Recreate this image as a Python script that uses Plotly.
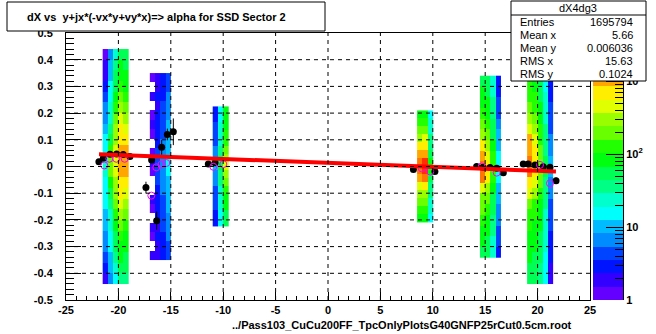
import colorsys
import numpy as np
import plotly.graph_objects as go

W, H = 656, 334

# ---- populated columns of the dX vs alpha-term histogram ----
# x bin edges of each column, the y span it covers, and the entries per x strip
# (each strip listed from the lowest y bin upwards; 0 = empty cell)
col1_xedges = [-21.5, -21.0, -20.5, -20.0, -19.5, -19.0]
col1_yspan = [-0.44, 0.44]
col1_counts = [
    [2, 3, 4, 7, 7, 10, 10, 15, 15, 15, 24, 24, 15, 15, 10, 7, 7, 4, 3, 2, 2, 1],
    [7, 10, 10, 15, 15, 24, 24, 36, 55, 85, 195, 195, 130, 55, 36, 24, 24, 15, 15, 10, 10, 7],
    [15, 24, 36, 55, 55, 85, 130, 195, 300, 300, 450, 450, 450, 300, 300, 195, 130, 85, 55, 55, 36, 24],
    [36, 55, 85, 85, 130, 195, 300, 450, 690, 690, 1050, 1050, 1050, 690, 690, 450, 300, 195, 130, 85, 85, 55],
    [36, 55, 55, 85, 85, 130, 195, 300, 450, 690, 1050, 1050, 1050, 690, 450, 300, 195, 130, 85, 85, 55, 55],
]

col2_xedges = [-17.0, -16.5, -16.0, -15.5, -15.0]
col2_yspan = [-0.35, 0.35]
col2_counts = [
    [2, 0, 1, 2, 0, 1, 2, 0, 0, 1, 2, 1, 0, 1, 2, 1, 0, 2, 0, 1],
    [2, 2, 3, 2, 3, 3, 3, 3, 4, 4, 4, 4, 3, 3, 3, 3, 2, 3, 2, 2],
    [3, 3, 3, 4, 4, 4, 4, 7, 7, 7, 7, 7, 7, 4, 4, 4, 4, 3, 3, 3],
    [4, 4, 7, 7, 7, 10, 10, 10, 10, 15, 15, 10, 10, 10, 10, 7, 7, 7, 4, 4],
]

col3_xedges = [-11.0, -10.5, -10.0, -9.5]
col3_yspan = [-0.225, 0.225]
col3_counts = [
    [3, 3, 4, 4, 4, 7, 7, 10, 7, 7, 4, 4, 4, 3, 3],
    [15, 15, 24, 24, 24, 36, 36, 55, 36, 36, 24, 24, 24, 15, 15],
    [55, 55, 85, 85, 130, 195, 300, 450, 300, 195, 130, 130, 85, 85, 85],
]

col4_xedges = [8.5, 9.0, 9.5, 10.0]
col4_yspan = [-0.21, 0.21]
col4_counts = [
    [85, 130, 195, 300, 450, 1050, 1600, 1600, 1050, 690, 300, 195, 130, 85],
    [85, 130, 195, 300, 690, 1600, 2450, 2450, 1050, 690, 450, 195, 130, 85],
    [15, 24, 24, 36, 36, 55, 85, 85, 55, 36, 36, 24, 24, 15],
]

col5_xedges = [14.5, 15.0, 15.5, 16.0, 16.5]
col5_yspan = [-0.34, 0.34]
col5_counts = [
    [55, 85, 85, 130, 195, 195, 450, 1600, 1600, 1050, 690, 300, 195, 130, 85, 85, 55],
    [55, 55, 85, 85, 130, 195, 300, 690, 690, 450, 300, 195, 130, 85, 85, 55, 55],
    [24, 24, 36, 36, 55, 55, 85, 130, 130, 130, 85, 55, 55, 36, 36, 24, 24],
    [3, 4, 4, 7, 7, 10, 10, 15, 15, 15, 10, 10, 7, 4, 4, 3, 3],
]

col6_xedges = [19.0, 19.5, 20.0, 20.5, 21.0, 21.5]
col6_yspan = [-0.44, 0.44]
col6_counts = [
    [55, 55, 85, 85, 85, 130, 130, 195, 450, 690, 1600, 1600, 1050, 1050, 450, 300, 195, 130, 130, 85, 85, 85],
    [55, 55, 55, 85, 85, 85, 130, 130, 300, 450, 690, 690, 690, 450, 300, 195, 130, 130, 85, 85, 85, 55],
    [36, 36, 55, 55, 55, 85, 85, 85, 130, 195, 195, 195, 195, 130, 130, 85, 85, 55, 55, 55, 36, 36],
    [15, 15, 15, 24, 24, 24, 24, 36, 36, 36, 55, 55, 36, 36, 36, 24, 24, 24, 15, 15, 15, 15],
    [2, 2, 3, 3, 3, 4, 4, 4, 7, 7, 10, 10, 7, 7, 4, 4, 4, 3, 3, 3, 2, 2],
]

# ---- profile of dX (black) and second profile (magenta) ----
prof_x = [-21.86, -21.44, -20.8, -20.17, -19.54, -18.9,
          -17.37, -16.83, -16.35, -15.87, -15.33, -14.76,
          -11.42, -10.78, 8.15, 10.2,
          14.18, 14.8, 15.46, 16.1, 16.73,
          18.63, 19.1, 19.75, 20.54, 21.18, 21.76]
prof_y = [0.018, 0.031, 0.046, 0.047, 0.045, 0.037,
          -0.079, 0.024, -0.203, 0.072, 0.12, 0.13,
          0.009, 0.014, -0.011, -0.019,
          0.0, -0.003, -0.004, -0.007, -0.023,
          0.009, 0.009, 0.006, -0.001, -0.003, -0.053]
prof_err = [0.004, 0.003, 0.002, 0.002, 0.002, 0.003,
            0.022, 0.01, 0.034, 0.028, 0.022, 0.05,
            0.006, 0.005, 0.003, 0.004,
            0.003, 0.002, 0.002, 0.003, 0.006,
            0.003, 0.002, 0.002, 0.003, 0.004, 0.012]

prof2_x = [-21.35, -20.87, -20.2, -19.4, -16.86, -16.38, -15.9, -15.43,
           -10.94, -9.99, 8.95, 9.75, 14.66, 16.1, 20.23, 21.18]
prof2_y = [0.004, 0.029, 0.029, 0.029, -0.109, -0.003, 0.007, 0.013,
           -0.001, 0.009, -0.007, -0.019, 0.0, -0.023, 0.006, -0.063]

# ---- straight-line fit ----
fit_x = [-21.85, 21.75]
fit_y = [0.046, -0.019]

# ---- statistics panel ----
hist_name = "dX4dg3"
stat_labels = ["Entries", "Mean x", "Mean y", "RMS x", "RMS y"]
stat_values = ["1695794", "5.66", "0.006036", "15.63", "0.1024"]

# ---- axes / palette ----
x_ticks = [-25, -20, -15, -10, -5, 0, 5, 10, 15, 20, 25]
y_ticks = [-0.5, -0.4, -0.3, -0.2, -0.1, 0.0, 0.1, 0.2, 0.3, 0.4, 0.5]
z_max = 4570
z_decades = [1, 10, 100, 1000]
z_decade_text = ["1", "10", "10<sup>2</sup>", "10<sup>3</sup>"]

title_text = "dX vs  y+jx*(-vx*y+vy*x)=> alpha for SSD Sector 2"
xtitle_text = "../Pass103_CuCu200FF_TpcOnlyPlotsG40GNFP25rCut0.5cm.root"

FONT = "Liberation Sans"


def fx(p):
    return p / W


def fy(p):
    return (H - p) / H


# frame of the main pad (pixels)
FL, FR, FT, FB = 66, 590, 33, 300
# palette bar
PL, PR = 593, 623

# 20-level "pretty" palette (hue 280 -> 0, full saturation)
n_lev = 20
zlog_max = np.log10(z_max)
colors = []
for k in range(n_lev):
    ci = int((k + 0.99) * 50 / n_lev)
    hue = 280 - (ci + 1) * 280 / 50
    r, g, b = colorsys.hls_to_rgb(hue / 360.0, 0.5, 1.0)
    colors.append("rgb(%d,%d,%d)" % (round(r * 255), round(g * 255), round(b * 255)))
cscale = []
for k, c in enumerate(colors):
    cscale.append([k / n_lev, c])
    cscale.append([(k + 1) / n_lev, c])

fig = go.Figure()

columns = [
    (col1_xedges, col1_yspan, col1_counts),
    (col2_xedges, col2_yspan, col2_counts),
    (col3_xedges, col3_yspan, col3_counts),
    (col4_xedges, col4_yspan, col4_counts),
    (col5_xedges, col5_yspan, col5_counts),
    (col6_xedges, col6_yspan, col6_counts),
]
for xe, ys, counts in columns:
    c = np.array(counts, dtype=float).T  # rows = y bins
    ye = np.linspace(ys[0], ys[1], c.shape[0] + 1)
    zl = np.where(c > 0, np.log10(np.maximum(c, 1.0)), np.nan)
    fig.add_trace(go.Heatmap(x=xe, y=ye, z=zl, coloraxis="coloraxis",
                             hoverinfo="skip", xaxis="x", yaxis="y"))

fig.add_trace(go.Scatter(
    x=prof_x, y=prof_y, mode="markers",
    marker=dict(symbol="circle", size=7, color="black"),
    error_y=dict(type="data", array=prof_err, color="black", thickness=1, width=0),
    xaxis="x", yaxis="y"))
fig.add_trace(go.Scatter(
    x=prof2_x, y=prof2_y, mode="markers",
    marker=dict(symbol="circle-open", size=7, color="#ff00ff", line=dict(width=1, color="#ff00ff")),
    xaxis="x", yaxis="y"))
fig.add_trace(go.Scatter(
    x=fit_x, y=fit_y, mode="lines", line=dict(color="#ff0000", width=4),
    xaxis="x", yaxis="y"))

# palette bar drawn as its own one-column heatmap
pal_edges = np.linspace(0, zlog_max, n_lev + 1)
pal_z = [[(pal_edges[k] + pal_edges[k + 1]) / 2] for k in range(n_lev)]
fig.add_trace(go.Heatmap(x=[0, 1], y=pal_edges, z=pal_z, coloraxis="coloraxis",
                         hoverinfo="skip", xaxis="x2", yaxis="y2"))

tickfont = dict(family=FONT, size=11, color="black", weight="bold")

x_minor = [v for v in range(-25, 26) if v % 5 != 0]
y_minor = [round(v, 2) for v in np.arange(-0.5, 0.5001, 0.02) if abs(round(v * 10) - v * 10) > 1e-6]

pal_minor = []
for d in [1, 10, 100, 1000]:
    for m in range(2, 10):
        if d * m < z_max:
            pal_minor.append(np.log10(d * m))

shapes = []
# dashed grid at major ticks
for v in x_ticks[1:-1]:
    shapes.append(dict(type="line", xref="x", yref="y", x0=v, x1=v, y0=-0.5, y1=0.5,
                       line=dict(color="black", width=1, dash="4px,4px"), layer="above"))
for v in y_ticks[1:-1]:
    shapes.append(dict(type="line", xref="x", yref="y", x0=-25, x1=25, y0=v, y1=v,
                       line=dict(color="black", width=1, dash="4px,4px"), layer="above"))
# title box
shapes.append(dict(type="rect", xref="paper", yref="paper", x0=fx(7), x1=fx(325), y0=fy(31), y1=fy(2),
                   line=dict(color="black", width=1), fillcolor="white", layer="above"))
# statistics box with header separator
shapes.append(dict(type="rect", xref="paper", yref="paper", x0=fx(511), x1=fx(646), y0=fy(81), y1=fy(1),
                   line=dict(color="black", width=1), fillcolor="white", layer="above"))
shapes.append(dict(type="line", xref="paper", yref="paper", x0=fx(511), x1=fx(646), y0=fy(15), y1=fy(15),
                   line=dict(color="black", width=1), layer="above"))

annotations = [
    dict(text=title_text, x=fx(25), y=fy(17), xref="paper", yref="paper", xanchor="left",
         yanchor="middle", showarrow=False, font=dict(family=FONT, size=11, color="black", weight="bold")),
    dict(text=xtitle_text, x=fx(574), y=fy(325), xref="paper", yref="paper", xanchor="right",
         yanchor="middle", showarrow=False, font=dict(family=FONT, size=11, color="black", weight="bold")),
    dict(text=hist_name, x=fx(578), y=fy(8), xref="paper", yref="paper", xanchor="center",
         yanchor="middle", showarrow=False, font=dict(family=FONT, size=11, color="black")),
]
row_y = [22, 35, 48, 61, 74]
for lab, val, ry in zip(stat_labels, stat_values, row_y):
    annotations.append(dict(text=lab, x=fx(518), y=fy(ry), xref="paper", yref="paper", xanchor="left",
                            yanchor="middle", showarrow=False, font=dict(family=FONT, size=11, color="black")))
    annotations.append(dict(text=val, x=fx(635), y=fy(ry), xref="paper", yref="paper", xanchor="right",
                            yanchor="middle", showarrow=False, font=dict(family=FONT, size=11, color="black")))

fig.update_layout(
    width=W, height=H,
    margin=dict(l=0, r=0, t=0, b=0),
    paper_bgcolor="white", plot_bgcolor="white",
    showlegend=False,
    coloraxis=dict(colorscale=cscale, cmin=0, cmax=zlog_max, showscale=False),
    xaxis=dict(domain=[fx(FL), fx(FR)], range=[-25, 25], tickmode="array", tickvals=x_ticks,
               ticktext=[str(v) for v in x_ticks], ticks="inside", ticklen=8, tickcolor="black",
               showline=True, mirror=True, linecolor="black", linewidth=1, showgrid=False,
               zeroline=False, tickfont=tickfont, automargin=False,
               minor=dict(tickmode="array", tickvals=x_minor, ticks="inside", ticklen=4,
                          tickcolor="black", showgrid=False)),
    yaxis=dict(domain=[fy(FB), fy(FT)], range=[-0.5, 0.5], tickmode="array", tickvals=y_ticks,
               ticktext=["%g" % v for v in y_ticks], ticks="inside", ticklen=15, tickcolor="black",
               showline=True, mirror=True, linecolor="black", linewidth=1, showgrid=False,
               zeroline=False, tickfont=tickfont, automargin=False, ticklabelstandoff=10,
               minor=dict(tickmode="array", tickvals=y_minor, ticks="inside", ticklen=8,
                          tickcolor="black", showgrid=False)),
    xaxis2=dict(domain=[fx(PL), fx(PR)], range=[0, 1], visible=False, anchor="y2"),
    yaxis2=dict(domain=[fy(FB), fy(FT)], range=[0, zlog_max], anchor="x2", side="right",
                tickmode="array", tickvals=np.log10(z_decades), ticktext=z_decade_text,
                ticks="inside", ticklen=17, tickcolor="black", showline=True, linecolor="black",
                linewidth=1, showgrid=False, zeroline=False, tickfont=tickfont, automargin=False,
                minor=dict(tickmode="array", tickvals=pal_minor, ticks="inside", ticklen=8,
                           tickcolor="black", showgrid=False)),
    shapes=shapes,
    annotations=annotations,
)

fig.write_html("out.html")
